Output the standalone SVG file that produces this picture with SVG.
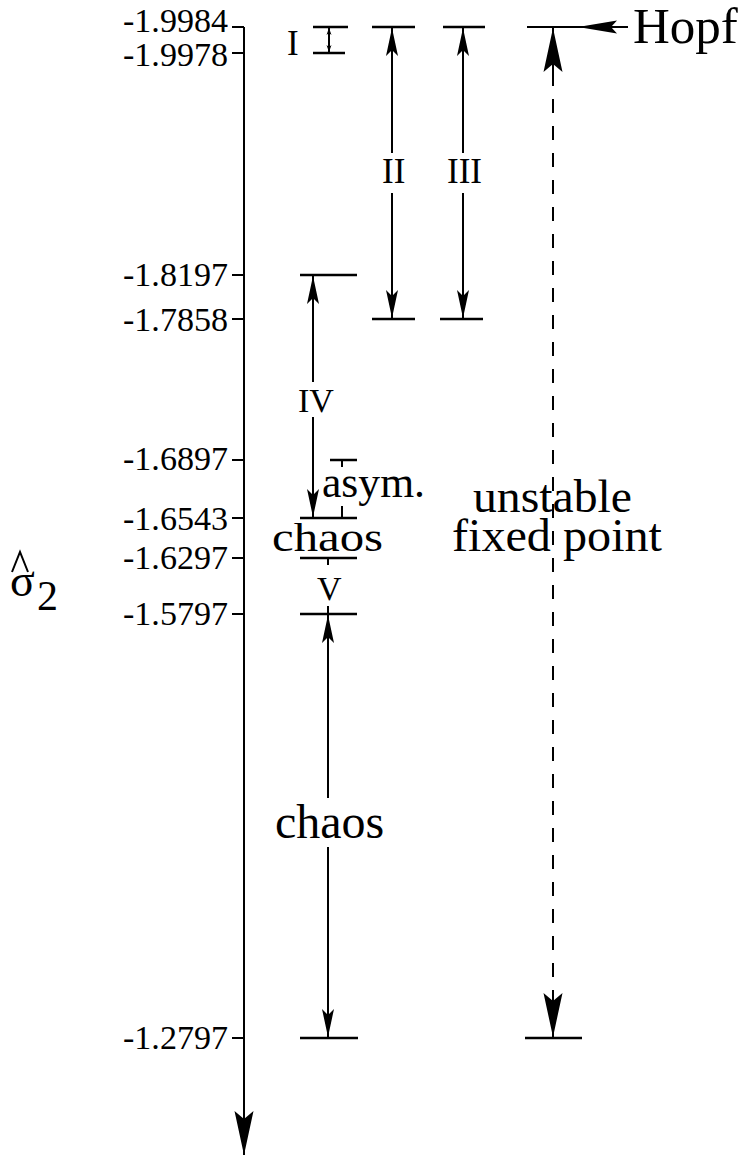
<svg xmlns="http://www.w3.org/2000/svg" width="745" height="1159" viewBox="0 0 745 1159">
<style>
text{font-family:"Liberation Serif","Times New Roman",serif;fill:#000}
.tl{font-size:34px;text-anchor:end}
.ln{stroke:#000;stroke-width:2;fill:none}
.bar{stroke:#000;stroke-width:2.5;fill:none}
.dash{stroke:#000;stroke-width:2;fill:none;stroke-dasharray:14 13}
</style>
<defs>
<marker id="sm" markerUnits="userSpaceOnUse" viewBox="-30 -8 31 16" refX="0" refY="0" markerWidth="31" markerHeight="16" orient="auto-start-reverse">
<path d="M0,0 L-28,-6 L-22,0 L-28,6 Z" fill="#000"/>
</marker>
<marker id="tiny" markerUnits="userSpaceOnUse" viewBox="-9 -4 10 8" refX="0" refY="0" markerWidth="10" markerHeight="8" orient="auto-start-reverse">
<path d="M0,0 L-7,-2.5 L-5,0 L-7,2.5 Z" fill="#000"/>
</marker>
<marker id="big" markerUnits="userSpaceOnUse" viewBox="-46 -11 47 22" refX="0" refY="0" markerWidth="47" markerHeight="22" orient="auto-start-reverse">
<path d="M0,0 L-44,-9.5 L-36,0 L-44,9.5 Z" fill="#000"/>
</marker>
<marker id="hopf" markerUnits="userSpaceOnUse" viewBox="-42 -8 43 16" refX="0" refY="0" markerWidth="43" markerHeight="16" orient="auto">
<path d="M0,0 L-39,-6.5 L-33,0 L-39,6.5 Z" fill="#000"/>
</marker>
</defs>

<g id="axis">
<line class="ln" x1="244" y1="27" x2="244" y2="1155" marker-end="url(#big)" stroke-width="2.2"/>
<g class="ln">
<line x1="232" y1="27" x2="244" y2="27"/>
<line x1="232" y1="53" x2="244" y2="53"/>
<line x1="232" y1="275" x2="244" y2="275"/>
<line x1="232" y1="319" x2="244" y2="319"/>
<line x1="232" y1="460" x2="244" y2="460"/>
<line x1="232" y1="518" x2="244" y2="518"/>
<line x1="232" y1="558" x2="244" y2="558"/>
<line x1="232" y1="614" x2="244" y2="614"/>
<line x1="232" y1="1038" x2="244" y2="1038"/>
</g>
<text class="tl" x="228" y="32" textLength="105" lengthAdjust="spacingAndGlyphs">-1.9984</text>
<text class="tl" x="228" y="66" textLength="105" lengthAdjust="spacingAndGlyphs">-1.9978</text>
<text class="tl" x="228" y="286" textLength="105" lengthAdjust="spacingAndGlyphs">-1.8197</text>
<text class="tl" x="228" y="331" textLength="105" lengthAdjust="spacingAndGlyphs">-1.7858</text>
<text class="tl" x="228" y="470" textLength="105" lengthAdjust="spacingAndGlyphs">-1.6897</text>
<text class="tl" x="228" y="530" textLength="105" lengthAdjust="spacingAndGlyphs">-1.6543</text>
<text class="tl" x="228" y="569" textLength="105" lengthAdjust="spacingAndGlyphs">-1.6297</text>
<text class="tl" x="228" y="625" textLength="105" lengthAdjust="spacingAndGlyphs">-1.5797</text>
<text class="tl" x="228" y="1049" textLength="105" lengthAdjust="spacingAndGlyphs">-1.2797</text>
</g>

<g id="axis-label">
<polyline class="ln" points="12,572 20,552 28,572" stroke-width="1.8"/>
<text x="10" y="596" font-size="46">σ</text>
<text x="37" y="610" font-size="42">2</text>
</g>

<g id="bars">
<g class="bar">
<line x1="313" y1="27" x2="348" y2="27"/>
<line x1="313" y1="53" x2="345" y2="53"/>
<line x1="372" y1="27" x2="415" y2="27"/>
<line x1="443" y1="27" x2="485" y2="27"/>
<line x1="300" y1="275" x2="357" y2="275"/>
<line x1="372" y1="319" x2="415" y2="319"/>
<line x1="440" y1="319" x2="483" y2="319"/>
<line x1="330" y1="460" x2="357" y2="460"/>
<line x1="300" y1="518" x2="357" y2="518"/>
<line x1="300" y1="558" x2="357" y2="558"/>
<line x1="300" y1="614" x2="357" y2="614"/>
<line x1="300" y1="1038" x2="358" y2="1038"/>
<line x1="525" y1="1038" x2="582" y2="1038"/>
</g>
</g>

<g id="connectors">
<line class="ln" x1="329" y1="28" x2="329" y2="52" marker-start="url(#tiny)" marker-end="url(#tiny)" stroke-width="1.5"/>
<line class="ln" x1="392" y1="28" x2="392" y2="153" marker-start="url(#sm)"/>
<line class="ln" x1="392" y1="193" x2="392" y2="318" marker-end="url(#sm)"/>
<line class="ln" x1="463" y1="28" x2="463" y2="153" marker-start="url(#sm)"/>
<line class="ln" x1="463" y1="193" x2="463" y2="318" marker-end="url(#sm)"/>
<line class="ln" x1="313" y1="276" x2="313" y2="382" marker-start="url(#sm)"/>
<line class="ln" x1="313" y1="417" x2="313" y2="517" marker-end="url(#sm)"/>
<line class="ln" x1="342" y1="460" x2="342" y2="467" stroke-width="1.5"/>
<line class="ln" x1="342" y1="506" x2="342" y2="518" stroke-width="1.5"/>
<line class="ln" x1="328" y1="558" x2="328" y2="565" stroke-width="1.5"/>
<line class="ln" x1="328" y1="606" x2="328" y2="614" stroke-width="1.5"/>
<line class="ln" x1="328" y1="615" x2="328" y2="798" marker-start="url(#sm)"/>
<line class="ln" x1="328" y1="847" x2="328" y2="1037" marker-end="url(#sm)"/>
<line class="ln" x1="527" y1="27" x2="578" y2="27" stroke-width="2.5"/>
<line class="ln" x1="628" y1="27" x2="578" y2="27" marker-end="url(#hopf)"/>
<line class="dash" x1="553" y1="72" x2="553" y2="996"/>
<line class="ln" x1="553" y1="72" x2="553" y2="28" marker-end="url(#big)"/>
<line class="ln" x1="553" y1="996" x2="553" y2="1037" marker-end="url(#big)"/>
</g>

<g id="labels">
<text x="287" y="55" font-size="35">I</text>
<text x="382" y="183" font-size="35">II</text>
<text x="447" y="183" font-size="35">III</text>
<text x="298" y="412" font-size="34">IV</text>
<text x="322" y="497" font-size="44" textLength="103" lengthAdjust="spacingAndGlyphs">asym.</text>
<text x="272" y="551" font-size="40" textLength="111" lengthAdjust="spacingAndGlyphs">chaos</text>
<text x="317" y="600" font-size="34">V</text>
<text x="275" y="838" font-size="48">chaos</text>
<text x="473" y="512" font-size="46" textLength="159" lengthAdjust="spacingAndGlyphs">unstable</text>
<text x="452" y="551" font-size="46" textLength="210" lengthAdjust="spacingAndGlyphs">fixed point</text>
<text x="633" y="43" font-size="51">Hopf</text>
</g>
</svg>
